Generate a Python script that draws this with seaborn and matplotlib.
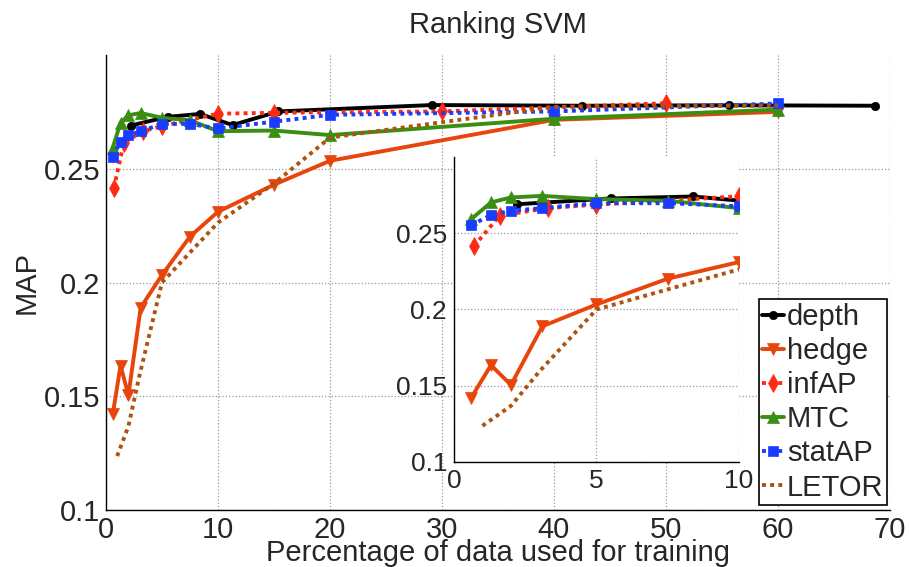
import matplotlib
matplotlib.use("Agg")
import matplotlib.pyplot as plt
import seaborn as sns

sns.set_style("white")
plt.rcParams['font.family'] = ['Liberation Sans', 'DejaVu Sans']

# values (x = % of data used for training, y = MAP)
depth_x = [2.2, 5.5, 8.4, 11.3, 15.4, 29.1, 42.5, 55.6, 68.7]
depth_y = [0.2690, 0.2728, 0.2741, 0.2692, 0.2752, 0.2780, 0.2777, 0.2779, 0.2777]

hedge_x = [0.6, 1.3, 2.0, 3.1, 5.0, 7.5, 10.0, 15.0, 20.0, 40.0, 60.0]
hedge_y = [0.1420, 0.1635, 0.1505, 0.1890, 0.2033, 0.2202, 0.2311, 0.2430, 0.2535, 0.2715, 0.2750]

infap_x = [0.7, 1.6, 3.3, 5.0, 10.0, 15.0, 30.0, 50.0]
infap_y = [0.2415, 0.2615, 0.2665, 0.2688, 0.2742, 0.2746, 0.2752, 0.2788]

mtc_x = [0.6, 1.3, 2.0, 3.1, 5.0, 7.5, 10.0, 15.0, 20.0, 40.0, 60.0]
mtc_y = [0.2592, 0.2702, 0.2735, 0.2745, 0.2724, 0.2713, 0.2665, 0.2668, 0.2648, 0.2720, 0.2760]

statap_x = [0.6, 1.3, 2.0, 3.1, 5.0, 7.5, 10.0, 15.0, 20.0, 40.0, 60.0]
statap_y = [0.2553, 0.2619, 0.2647, 0.2665, 0.2697, 0.2697, 0.2677, 0.2707, 0.2737, 0.2752, 0.2787]

letor_x = [1.0, 2.0, 3.0, 5.0, 7.5, 10.0, 15.0, 20.0, 40.0, 60.0]
letor_y = [0.1237, 0.1368, 0.1594, 0.2000, 0.2132, 0.2263, 0.2435, 0.2637, 0.2772, 0.2778]

series_names = ["depth", "hedge", "infAP", "MTC", "statAP", "LETOR"]
series_x = [depth_x, hedge_x, infap_x, mtc_x, statap_x, letor_x]
series_y = [depth_y, hedge_y, infap_y, mtc_y, statap_y, letor_y]
colors = ["#000000", "#E8450C", "#FF2A14", "#3A8E12", "#1A3CFF", "#B0520F"]
dotted = (0, (1, 1.1))
styles = ["-", "-", dotted, "-", dotted, dotted]
markers = ["o", "v", "d", "^", "s", None]
msizes = [6, 8, 9, 8, 7, 0]

fig = plt.figure(figsize=(9.09, 5.67), dpi=100)
ax = fig.add_axes([0.1166, 0.1005, 0.8625, 0.8025])
ins = fig.add_axes([0.4994, 0.1852, 0.3135, 0.5379])

for a in (ax, ins):
    for name, xs, ys, c, ls, m, ms in zip(series_names, series_x, series_y,
                                          colors, styles, markers, msizes):
        sns.lineplot(x=xs, y=ys, ax=a, color=c, linestyle=ls, linewidth=2.8,
                     marker=m, markersize=ms, markeredgecolor=c,
                     markerfacecolor=c, markeredgewidth=0.5,
                     estimator=None, sort=False, legend=False,
                     label=name if a is ax else None)

# main axes
ax.set_xlim(0, 70)
ax.set_ylim(0.1, 0.3)
ax.set_xticks(range(0, 71, 10))
ax.set_yticks([0.1, 0.15, 0.2, 0.25])
ax.set_yticklabels(["0.1", "0.15", "0.2", "0.25"])
ax.tick_params(labelsize=21, direction="in", length=5, width=1, pad=4)
ax.grid(True, linestyle=":", color="#999999", linewidth=0.9)
for s in ("top", "right"):
    ax.spines[s].set_visible(False)
for s in ("left", "bottom"):
    ax.spines[s].set_color("black")
    ax.spines[s].set_linewidth(1.0)
ax.set_title("Ranking SVM", fontsize=21, pad=16)
ax.set_xlabel("Percentage of data used for training", fontsize=21, labelpad=-3)
ax.set_ylabel("MAP", fontsize=21, labelpad=2)

# inset zoom on first 10 %
ins.set_xlim(0, 10)
ins.set_ylim(0.1, 0.3)
ins.set_xticks([0, 5, 10])
ins.set_yticks([0.1, 0.15, 0.2, 0.25])
ins.set_yticklabels(["0.1", "0.15", "0.2", "0.25"])
ins.tick_params(labelsize=19, direction="in", length=5, width=1, pad=5)
ins.grid(True, linestyle=":", color="#999999", linewidth=0.9)
ins.set_facecolor("white")
for s in ("top", "right"):
    ins.spines[s].set_visible(False)
for s in ("left", "bottom"):
    ins.spines[s].set_color("black")
    ins.spines[s].set_linewidth(1.0)

leg = ax.legend(loc="lower right", bbox_to_anchor=(887 / 909, 62 / 567),
                bbox_transform=fig.transFigure, fontsize=21, frameon=True,
                fancybox=False, edgecolor="black", framealpha=1,
                handlelength=0.75, handletextpad=0.1, labelspacing=0.21,
                borderpad=0.12, borderaxespad=0)
leg.get_frame().set_linewidth(1.2)
leg.set_zorder(10)

fig.savefig("out.png", dpi=100)
